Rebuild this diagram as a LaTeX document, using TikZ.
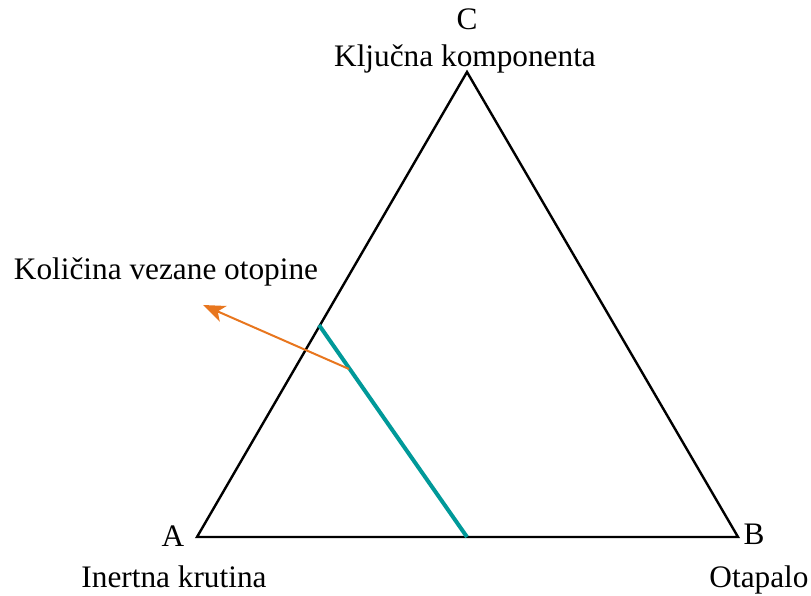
\documentclass[tikz,border=0pt]{standalone}
\usepackage{fontspec}
\setmainfont{Liberation Serif}
\usetikzlibrary{arrows.meta}
\definecolor{tealline}{RGB}{0,153,153}
\definecolor{orangearrow}{RGB}{232,118,30}
\begin{document}
\begin{tikzpicture}[x=1pt,y=1pt,
  lbl/.style={inner sep=0pt,anchor=base,font=\fontsize{31.3}{36}\selectfont},
  side/.style={draw=black,line width=2.4pt,line join=miter},
  tie/.style={draw=tealline,line width=4pt},
  pointer/.style={draw=orangearrow,line width=2pt,-{Stealth[length=22pt,width=17pt,inset=6pt]}}]
\useasboundingbox (0,0) rectangle (811,596);
\coordinate (A) at (197,59);
\coordinate (B) at (738,59);
\coordinate (C) at (467,524);
\coordinate (T1) at (319,271);
\coordinate (T2) at (467,59);
\coordinate (P) at (349,227);
\coordinate (Q) at (203,291);
\draw[side] (A) -- (B) -- (C) -- cycle;
\draw[tie] (T1) -- (T2);
\draw[pointer] (P) -- (Q);
\node[lbl] (lC) at (467,566) {C};
\node[lbl] (lCn) at (465,529) {Ključna komponenta};
\node[lbl] (lA) at (173,49) {A};
\node[lbl] (lB) at (754,51) {B};
\node[lbl] (lAn) at (174,8) {Inertna krutina};
\node[lbl] (lBn) at (759,8) {Otapalo};
\node[lbl] (lQ) at (166,316) {Količina vezane otopine};
\end{tikzpicture}
\end{document}
